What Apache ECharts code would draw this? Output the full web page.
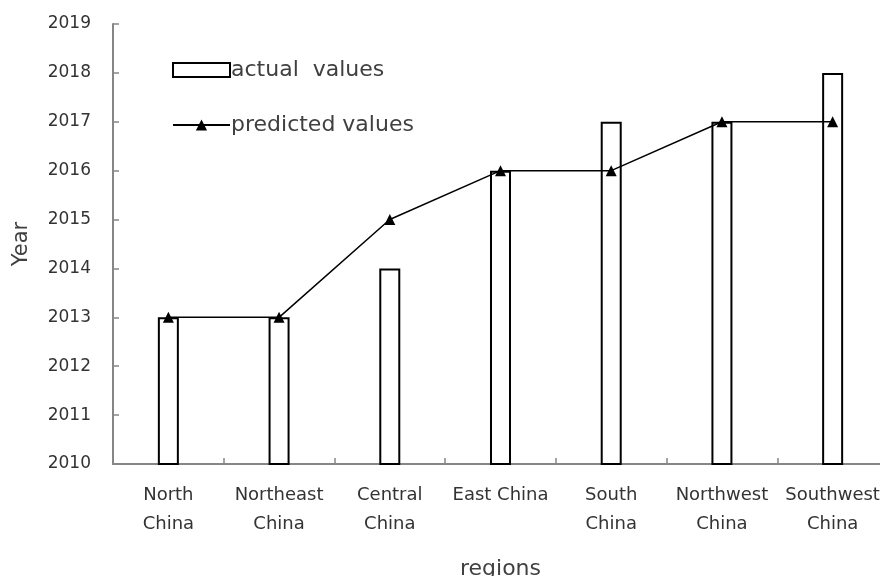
<!DOCTYPE html>
<html>
<head>
<meta charset="utf-8">
<script src="https://cdn.jsdelivr.net/npm/echarts@6/dist/echarts.min.js"></script>
<style>
  html, body { margin: 0; padding: 0; background: #fff; }
  #chart { width: 880px; height: 576px; }
</style>
</head>
<body>
<div id="chart"></div>
<script>
// Regions along the x axis
const regions = ['North\nChina', 'Northeast\nChina', 'Central\nChina', 'East China', 'South\nChina', 'Northwest\nChina', 'Southwest\nChina'];
// Year values per region
const actualValues = [2013, 2013, 2014, 2016, 2017, 2017, 2018];
const predictedValues = [2013, 2013, 2015, 2016, 2016, 2017, 2017];
// Y axis range
const yMin = 2010;
const yMax = 2019;
const yStep = 1;

const FONT = 'DejaVu Sans';
const TEXT = '#404040';
const AXIS = '#868686';

const chart = echarts.init(document.getElementById('chart'), null, { renderer: 'canvas' });
chart.setOption({
  animation: false,
  backgroundColor: '#fff',
  textStyle: { fontFamily: FONT },
  grid: { left: 113, right: -8, top: 24, bottom: 112, containLabel: false, outerBoundsMode: 'none' },
  legend: {
    orient: 'vertical',
    left: 167,
    top: 51,
    itemWidth: 57,
    itemHeight: 14,
    itemGap: 27,
    textStyle: { fontFamily: FONT, fontSize: 22, color: TEXT, padding: [0, 0, 0, -4], lineHeight: 28 },
    data: [
      { name: 'actual  values', icon: 'rect', itemStyle: { color: '#fff', borderColor: '#000', borderWidth: 2 } },
      { name: 'predicted values' }
    ]
  },
  xAxis: {
    type: 'category',
    data: regions,
    name: 'regions',
    nameLocation: 'middle',
    nameGap: 94,
    nameTextStyle: { fontFamily: FONT, fontSize: 22, color: TEXT },
    axisLine: { lineStyle: { color: AXIS, width: 2 } },
    axisTick: { show: true, inside: true, length: 6, lineStyle: { color: AXIS, width: 1.5 } },
    axisLabel: { fontFamily: FONT, fontSize: 18, color: '#333', lineHeight: 29, margin: 17, interval: 0 }
  },
  yAxis: {
    type: 'value',
    min: yMin,
    max: yMax,
    interval: yStep,
    name: 'Year',
    nameLocation: 'middle',
    nameGap: 81,
    nameRotate: 90,
    nameTextStyle: { fontFamily: FONT, fontSize: 21, color: TEXT },
    splitLine: { show: false },
    axisLine: { show: true, lineStyle: { color: AXIS, width: 2 } },
    axisTick: { show: true, inside: true, length: 6, lineStyle: { color: AXIS, width: 1.5 } },
    axisLabel: { fontFamily: FONT, fontSize: 17, color: '#333', margin: 22, formatter: v => String(v) }
  },
  series: [
    {
      name: 'actual  values',
      type: 'bar',
      data: actualValues,
      barWidth: 21,
      itemStyle: { color: '#fff', borderColor: '#000', borderWidth: 2 },
      z: 2
    },
    {
      name: 'predicted values',
      type: 'line',
      data: predictedValues,
      symbol: 'triangle',
      symbolSize: 11,
      itemStyle: { color: '#000' },
      lineStyle: { color: '#000', width: 1.5 },
      z: 3
    }
  ]
});
</script>
</body>
</html>
